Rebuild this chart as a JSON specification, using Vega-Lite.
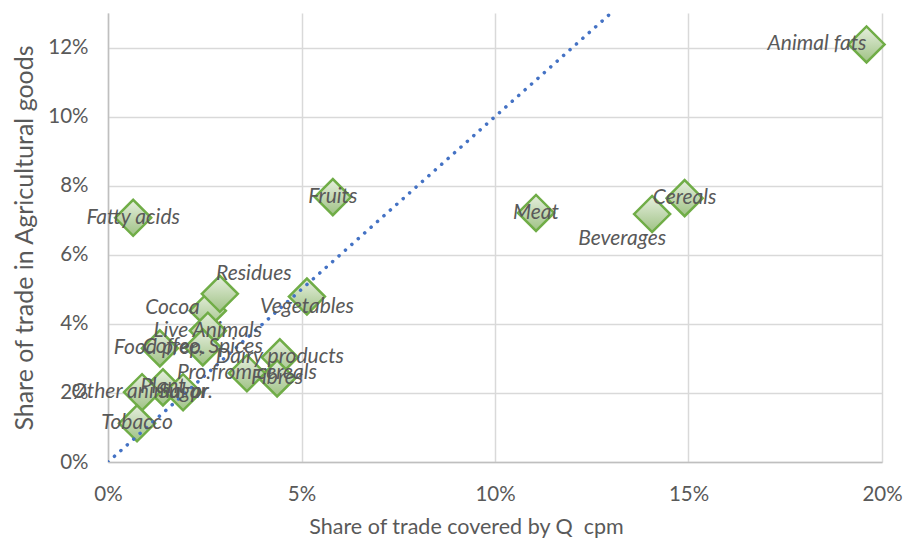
{
  "$schema": "https://vega.github.io/schema/vega-lite/v6.json",
  "width": 774,
  "height": 449,
  "autosize": "none",
  "padding": {"left": 108, "top": 13, "right": 24, "bottom": 82},
  "background": "white",
  "config": {
    "view": {"stroke": null},
    "font": "Lato",
    "axis": {
      "labelFont": "Lato",
      "labelFontSize": 20.5,
      "labelColor": "#595959",
      "labelFlush": false,
      "titleFont": "Lato",
      "titleFontWeight": "normal",
      "titleColor": "#595959",
      "gridColor": "#d9d9d9",
      "gridWidth": 1.5,
      "domainColor": "#bfbfbf",
      "domainWidth": 1.5,
      "ticks": false
    }
  },
  "datasets": {
    "pts": [
      {"name": "Animal fats", "x": 0.196, "y": 0.1209},
      {"name": "Cereals", "x": 0.149, "y": 0.0764},
      {"name": "Beverages", "x": 0.1406, "y": 0.0718},
      {"name": "Meat", "x": 0.1106, "y": 0.0721},
      {"name": "Fruits", "x": 0.0581, "y": 0.0767},
      {"name": "Fatty acids", "x": 0.0065, "y": 0.0707},
      {"name": "Cocoa", "x": 0.0258, "y": 0.0438},
      {"name": "Residues", "x": 0.0289, "y": 0.0487},
      {"name": "Vegetables", "x": 0.0514, "y": 0.0479},
      {"name": "Live Animals", "x": 0.0258, "y": 0.038},
      {"name": "Coffee, Spices", "x": 0.0245, "y": 0.0332},
      {"name": "Food prep.", "x": 0.0134, "y": 0.0329},
      {"name": "Dairy products", "x": 0.0444, "y": 0.0303},
      {"name": "Fibres", "x": 0.0437, "y": 0.0242},
      {"name": "Pro.from cereals", "x": 0.0359, "y": 0.0257},
      {"name": "Plant", "x": 0.0142, "y": 0.0216},
      {"name": "Sugar", "x": 0.0194, "y": 0.0202},
      {"name": "Other animal pr.", "x": 0.0088, "y": 0.0202},
      {"name": "Tobacco", "x": 0.0075, "y": 0.0112}
    ],
    "diag": [
      {"x": 0, "y": 0},
      {"x": 0.13, "y": 0.13}
    ]
  },
  "encoding": {
    "x": {
      "field": "x", "type": "quantitative",
      "scale": {"domain": [0, 0.2], "nice": false},
      "axis": {"format": ".0%", "values": [0, 0.05, 0.1, 0.15, 0.2], "labelPadding": 22, "titlePadding": 12, "titleFontSize": 21.5, "titleX": 358, "title": "Share of trade covered by Q\u00a0\u00a0cpm"}
    },
    "y": {
      "field": "y", "type": "quantitative",
      "scale": {"domain": [0, 0.13], "nice": false},
      "axis": {"format": ".0%", "values": [0, 0.02, 0.04, 0.06, 0.08, 0.1, 0.12], "labelPadding": 20, "titlePadding": 10, "titleFontSize": 25, "title": "Share of trade in Agricultural goods"}
    }
  },
  "layer": [
    {
      "data": {"name": "pts"},
      "mark": {
        "type": "point", "shape": "diamond", "size": 1300, "filled": true, "opacity": 1,
        "fill": {"gradient": "linear", "x1": 0, "y1": 0, "x2": 0, "y2": 1, "stops": [{"offset": 0, "color": "#e6efde"}, {"offset": 1, "color": "#9fc285"}]},
        "stroke": "#70ad47", "strokeWidth": 2.5
      }
    },
    {
      "data": {"name": "diag"},
      "mark": {"type": "line", "color": "#4472c4", "strokeWidth": 3.5, "strokeDash": [0.1, 8.5], "strokeCap": "round", "clip": true}
    },
    {
      "data": {"name": "pts"},
      "transform": [{"filter": {"not": {"field": "name", "oneOf": ["Animal fats", "Beverages", "Residues", "Cocoa", "Vegetables"]}}}],
      "mark": {"type": "text", "font": "Lato", "fontStyle": "italic", "fontSize": 21, "color": "#595959", "align": "center", "baseline": "middle"},
      "encoding": {"text": {"field": "name"}}
    },
    {
      "data": {"name": "pts"},
      "transform": [{"filter": {"field": "name", "equal": "Animal fats"}}],
      "mark": {"type": "text", "font": "Lato", "fontStyle": "italic", "fontSize": 21, "color": "#595959", "align": "right", "baseline": "middle", "dx": 0},
      "encoding": {"text": {"field": "name"}}
    },
    {
      "data": {"name": "pts"},
      "transform": [{"filter": {"field": "name", "equal": "Beverages"}}],
      "mark": {"type": "text", "font": "Lato", "fontStyle": "italic", "fontSize": 21, "color": "#595959", "align": "center", "baseline": "middle", "dx": -30, "dy": 25},
      "encoding": {"text": {"field": "name"}}
    },
    {
      "data": {"name": "pts"},
      "transform": [{"filter": {"field": "name", "equal": "Residues"}}],
      "mark": {"type": "text", "font": "Lato", "fontStyle": "italic", "fontSize": 21, "color": "#595959", "align": "center", "baseline": "middle", "dx": 34, "dy": -20},
      "encoding": {"text": {"field": "name"}}
    },
    {
      "data": {"name": "pts"},
      "transform": [{"filter": {"field": "name", "equal": "Cocoa"}}],
      "mark": {"type": "text", "font": "Lato", "fontStyle": "italic", "fontSize": 21, "color": "#595959", "align": "right", "baseline": "middle", "dx": -8, "dy": -3},
      "encoding": {"text": {"field": "name"}}
    },
    {
      "data": {"name": "pts"},
      "transform": [{"filter": {"field": "name", "equal": "Vegetables"}}],
      "mark": {"type": "text", "font": "Lato", "fontStyle": "italic", "fontSize": 21, "color": "#595959", "align": "center", "baseline": "middle", "dy": 10},
      "encoding": {"text": {"field": "name"}}
    }
  ]
}
